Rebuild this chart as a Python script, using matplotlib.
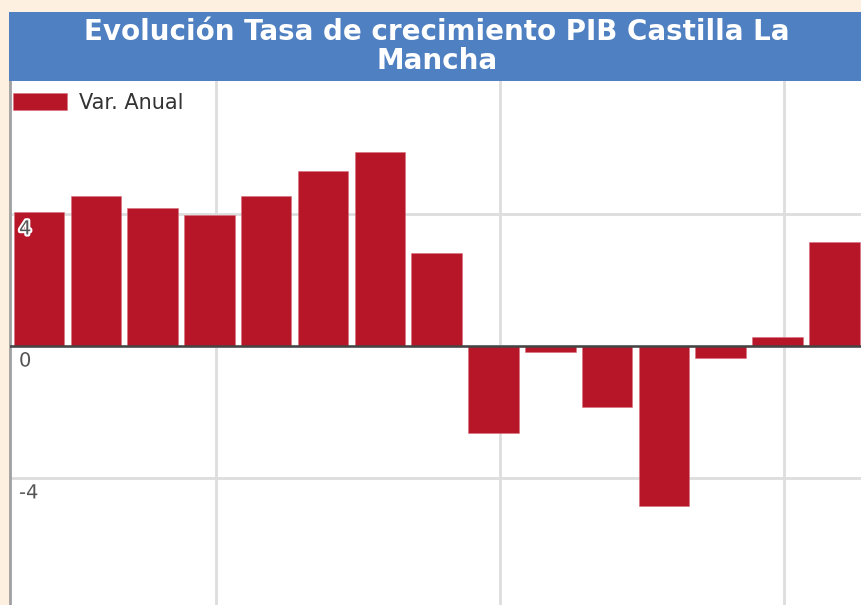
import matplotlib.pyplot as plt
import matplotlib.patheffects as pe
import matplotlib.transforms as mtransforms
from matplotlib.patches import Rectangle

# data
years = [2001, 2002, 2003, 2004, 2005, 2006, 2007, 2008,
         2009, 2010, 2011, 2012, 2013, 2014, 2015]
var_anual = [4.07, 4.55, 4.18, 3.97, 4.55, 5.30, 5.89, 2.81,
             -2.65, -0.19, -1.85, -4.84, -0.35, 0.28, 3.16]
y_ticks = [-4, 0, 4]
grid_x = [3.11, 8.11, 13.11]

title = "Evolución Tasa de crecimiento PIB Castilla La\nMancha"
legend_label = "Var. Anual"

W, H = 861, 605
fig = plt.figure(figsize=(W / 100, H / 100), dpi=100)
fig.patch.set_facecolor('#FDF0E0')

# blue title band
fig.patches.append(Rectangle((9 / W, 1 - 81 / H), 1 - 9 / W, 69 / H,
                             transform=fig.transFigure, facecolor='#4F80C1',
                             edgecolor='none', zorder=0))
fig.text(437 / W, 1 - 46.5 / H, title, ha='center', va='center', color='white',
         fontsize=20, fontweight='bold', linespacing=1.08,
         family='DejaVu Sans')

ax = fig.add_axes([10 / W, 0, 1 - 10 / W, (H - 81) / H])
ax.set_facecolor('white')

x = list(range(len(years)))
ax.bar(x, var_anual, width=0.89, color='#B71628', edgecolor='#d9707c',
       linewidth=0.4, label=legend_label, zorder=2)

ax.set_xlim(-0.51, 14.47)
ax.set_ylim(-7.85, 8.03)

ax.set_xticks(grid_x)
ax.set_yticks(y_ticks)
ax.set_xticklabels([])
ax.set_yticklabels([])
ax.tick_params(length=0)
ax.grid(True, color='#dddddd', linewidth=2, zorder=0)
ax.set_axisbelow(True)
ax.axhline(0, color='#444444', linewidth=1.8, zorder=3)

for s in ['top', 'right', 'bottom']:
    ax.spines[s].set_visible(False)
ax.spines['left'].set_color('#a0a0a0')
ax.spines['left'].set_linewidth(2)

# y labels inside the plot, just below each gridline
off = mtransforms.offset_copy(ax.transData, fig=fig, x=0, y=-15, units='dots')
trans = mtransforms.blended_transform_factory(ax.transAxes, off)
for v in y_ticks:
    t = ax.text(9 / (W - 10), v, str(v), fontsize=14, color='#555555',
                ha='left', va='center', transform=trans, zorder=5)
    t.set_path_effects([pe.withStroke(linewidth=3, foreground='white')])

leg = ax.legend(loc='upper left', bbox_to_anchor=(3 / (W - 10), 1 - 12 / (H - 81)),
                frameon=False, fontsize=15, handlelength=2.6, handleheight=0.85,
                handletextpad=0.55, borderaxespad=0, borderpad=0)
for t in leg.get_texts():
    t.set_color('#333333')

fig.savefig('out.png', dpi=100, facecolor=fig.get_facecolor())
